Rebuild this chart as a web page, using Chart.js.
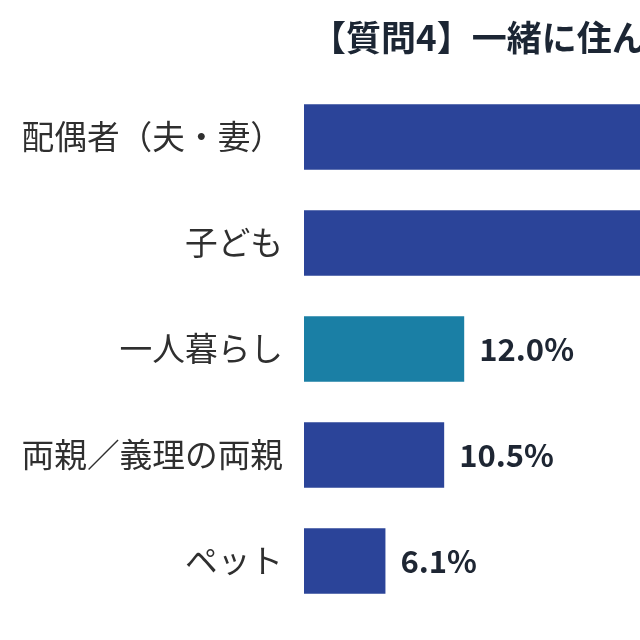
<!DOCTYPE html>
<html>
<head>
<meta charset="utf-8">
<script src="https://cdn.jsdelivr.net/npm/chart.js@4"></script>
<style>
html, body { margin: 0; padding: 0; background: #ffffff; overflow: hidden; width: 640px; height: 640px; }
#wrap { width: 1200px; height: 640px; }
</style>
</head>
<body>
<div id="wrap"><canvas id="c" width="1200" height="640"></canvas></div>
<script>
const titleText = '【質問4】一緒に住んでいる人は？';
const categories = ['配偶者（夫・妻）', '子ども', '一人暮らし', '両親／義理の両親', 'ペット'];
const values = [55.5, 37.9, 12.0, 10.5, 6.1];
const barColors = ['#2b4499', '#2b4499', '#1a7fa5', '#2b4499', '#2b4499'];
const FONT = "'Noto Sans CJK JP', 'Noto Sans', sans-serif";

const valueLabels = {
  id: 'valueLabels',
  afterLayout(chart) {
    if (chart.titleBlock) {
      chart.titleBlock.left += 7;
      chart.titleBlock.right += 7;
    }
  },
  afterDatasetsDraw(chart) {
    const ctx = chart.ctx;
    const meta = chart.getDatasetMeta(0);
    ctx.save();
    ctx.font = 'bold 31px ' + FONT;
    ctx.fillStyle = '#1e2633';
    ctx.textAlign = 'left';
    ctx.textBaseline = 'middle';
    meta.data.forEach((bar, i) => {
      ctx.fillText(values[i].toFixed(1) + '%', bar.x + 15, bar.y);
    });
    ctx.restore();
  }
};

new Chart(document.getElementById('c'), {
  type: 'bar',
  data: {
    labels: categories,
    datasets: [{
      data: values,
      backgroundColor: barColors,
      borderWidth: 0,
      categoryPercentage: 1.0,
      barPercentage: 0.62
    }]
  },
  options: {
    indexAxis: 'y',
    responsive: false,
    animation: false,
    devicePixelRatio: 1,
    layout: { padding: { left: 0, right: 95, top: 0, bottom: 26 } },
    plugins: {
      legend: { display: false },
      tooltip: { enabled: false },
      title: {
        display: true,
        text: titleText,
        align: 'start',
        fullSize: false,
        color: '#1c2634',
        font: { family: FONT, size: 35, weight: 'bold', lineHeight: 1.2 },
        padding: { top: 17, bottom: 25 }
      }
    },
    scales: {
      x: {
        display: false,
        min: 0,
        max: 60
      },
      y: {
        grid: { display: false },
        border: { display: false },
        afterFit(scale) {
          scale.width = 304;
          scale.paddingTop = 0;
          scale.paddingBottom = 0;
        },
        ticks: {
          color: '#2f2f2f',
          padding: 13,
          font: { family: FONT, size: 32.7 }
        }
      }
    }
  },
  plugins: [valueLabels]
});
</script>
</body>
</html>
